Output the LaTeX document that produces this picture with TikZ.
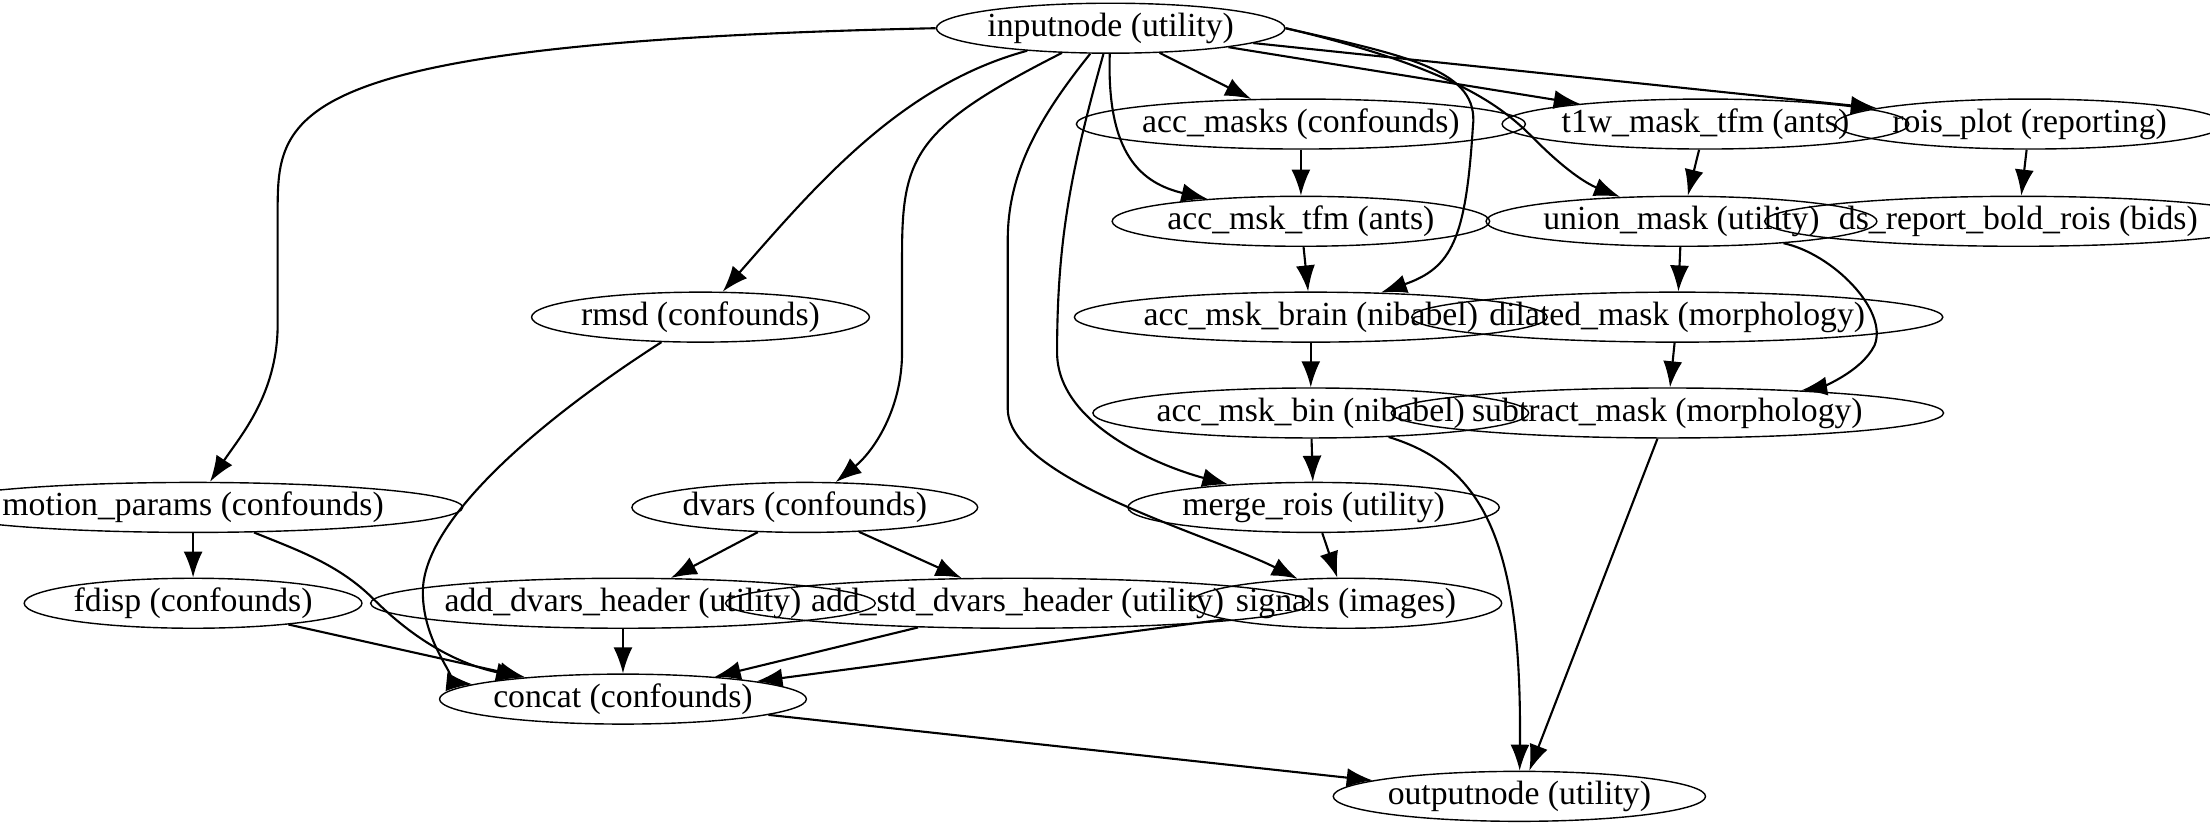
\documentclass[tikz,border=0pt]{standalone}
\usepackage{fontspec}
\setmainfont{Liberation Serif}
\usetikzlibrary{shapes.geometric,arrows.meta}
\tikzset{
  job/.style={draw, ellipse, inner sep=0pt, minimum height=0.5cm, font=\fontsize{9.6}{10}\selectfont},
  flow/.style={-{Latex[length=2.6mm,width=1.9mm]}, semithick}
}
\begin{document}
\begin{tikzpicture}[x=0.0141cm, y=-0.0141cm]
        \useasboundingbox (0,0) rectangle (1568,587);

        % Nodes
        \node[job, minimum width=180*0.0141cm] (inputnode) at (788,20) {inputnode (utility)};
        \node[job, minimum width=216*0.0141cm] (accmasks) at (923,88) {acc\_masks (confounds)};
        \node[job, minimum width=170*0.0141cm] (t1wtfm) at (1210,88) {t1w\_mask\_tfm (ants)};
        \node[job, minimum width=196*0.0141cm] (roisplot) at (1440,88) {rois\_plot (reporting)};
        \node[job, minimum width=188*0.0141cm] (acctfm) at (923,157) {acc\_msk\_tfm (ants)};
        \node[job, minimum width=192*0.0141cm] (union) at (1193,157) {union\_mask (utility)};
        \node[job, minimum width=236*0.0141cm] (dsreport) at (1432,157) {ds\_report\_bold\_rois (bids)};
        \node[job, minimum width=204*0.0141cm] (rmsd) at (497,225) {rmsd (confounds)};
        \node[job, minimum width=236*0.0141cm] (accbrain) at (930,225) {acc\_msk\_brain (nibabel)};
        \node[job, minimum width=254*0.0141cm] (dilated) at (1190,225) {dilated\_mask (morphology)};
        \node[job, minimum width=212*0.0141cm] (accbin) at (930,293) {acc\_msk\_bin (nibabel)};
        \node[job, minimum width=290*0.0141cm] (subtract) at (1183,293) {subtract\_mask (morphology)};
        \node[job, minimum width=270*0.0141cm] (motion) at (137,360) {motion\_params (confounds)};
        \node[job, minimum width=218*0.0141cm] (dvars) at (571,360) {dvars (confounds)};
        \node[job, minimum width=194*0.0141cm] (merge) at (932,360) {merge\_rois (utility)};
        \node[job, minimum width=170*0.0141cm] (fdisp) at (137,428) {fdisp (confounds)};
        \node[job, minimum width=252*0.0141cm] (adddvars) at (442,428) {add\_dvars\_header (utility)};
        \node[job, minimum width=290*0.0141cm] (addstd) at (722,428) {add\_std\_dvars\_header (utility)};
        \node[job, minimum width=168*0.0141cm] (signals) at (955,428) {signals (images)};
        \node[job, minimum width=184*0.0141cm] (concat) at (442,496) {concat (confounds)};
        \node[job, minimum width=190*0.0141cm] (outputnode) at (1078,565) {outputnode (utility)};

        % From inputnode
        \draw[flow] (inputnode.west) .. controls (200,30) and (197,80) .. (197,150)
          -- (197,230) .. controls (197,280) and (170,310) .. (motion);
        \draw[flow] (inputnode) .. controls (640,60) and (580,130) .. (rmsd);
        \draw[flow] (inputnode) .. controls (650,90) and (640,110) .. (640,180)
          -- (640,250) .. controls (640,290) and (620,320) .. (dvars);
        \draw[flow] (inputnode) .. controls (740,80) and (715,120) .. (715,170)
          -- (715,290) .. controls (715,340) and (860,380) .. (signals);
        \draw[flow] (inputnode) .. controls (760,120) and (750,170) .. (750,250)
          .. controls (750,300) and (820,330) .. (merge);
        \draw[flow] (inputnode) .. controls (785,110) and (810,130) .. (acctfm);
        \draw[flow] (inputnode) -- (accmasks);
        \draw[flow] (inputnode.east) .. controls (1000,40) and (1050,50) .. (1045,90)
          .. controls (1040,170) and (1030,190) .. (accbrain);
        \draw[flow] (inputnode) -- (t1wtfm);
        \draw[flow] (inputnode.east) .. controls (1040,50) and (1070,80) .. (1090,100)
          .. controls (1110,120) and (1125,130) .. (union);
        \draw[flow] (inputnode) -- (roisplot);

        % Masks
        \draw[flow] (accmasks) -- (acctfm);
        \draw[flow] (acctfm) -- (accbrain);
        \draw[flow] (accbrain) -- (accbin);
        \draw[flow] (accbin) -- (merge);
        \draw[flow] (accbin) .. controls (1050,330) and (1080,380) .. (outputnode);
        \draw[flow] (t1wtfm) -- (union);
        \draw[flow] (roisplot) -- (dsreport);
        \draw[flow] (union) -- (dilated);
        \draw[flow] (union) .. controls (1300,180) and (1340,220) .. (1330,245)
          .. controls (1320,265) and (1290,275) .. (subtract);
        \draw[flow] (dilated) -- (subtract);
        \draw[flow] (subtract) -- (outputnode);
        \draw[flow] (merge) -- (signals);

        % Confounds
        \draw[flow] (rmsd) .. controls (380,300) and (300,370) .. (300,420)
          .. controls (300,460) and (330,485) .. (concat);
        \draw[flow] (motion) -- (fdisp);
        \draw[flow] (motion) .. controls (210,390) and (240,400) .. (265,425)
          .. controls (290,450) and (320,470) .. (concat);
        \draw[flow] (fdisp) -- (concat);
        \draw[flow] (dvars) -- (adddvars);
        \draw[flow] (dvars) -- (addstd);
        \draw[flow] (adddvars) -- (concat);
        \draw[flow] (addstd) -- (concat);
        \draw[flow] (signals) -- (concat);
        \draw[flow] (concat) -- (outputnode);
\end{tikzpicture}
\end{document}
